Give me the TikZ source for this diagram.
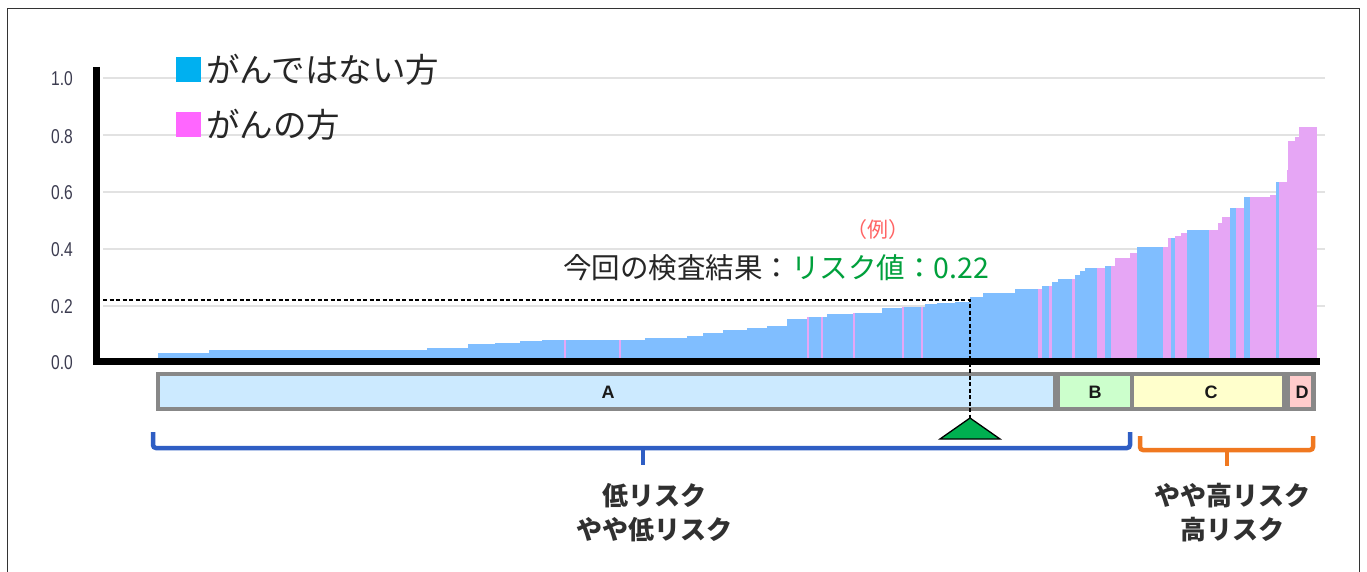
\documentclass[tikz,border=0pt]{standalone}
\usepackage{fontspec}
\setmainfont{Liberation Sans}
\newfontfamily\jp{Noto Sans CJK JP}
\newfontfamily\ylabfont[FakeStretch=0.78]{Liberation Sans}
\definecolor{legblue}{RGB}{0,176,240}
\definecolor{legpink}{RGB}{255,102,255}
\definecolor{barblue}{RGB}{128,190,255}
\definecolor{barpink}{RGB}{230,166,245}
\definecolor{gridc}{RGB}{226,226,226}
\definecolor{boxgrey}{RGB}{136,136,136}
\definecolor{fillA}{RGB}{204,234,255}
\definecolor{fillB}{RGB}{204,255,204}
\definecolor{fillC}{RGB}{255,255,204}
\definecolor{fillD}{RGB}{255,204,204}
\definecolor{brblue}{RGB}{47,94,196}
\definecolor{brorange}{RGB}{240,120,32}
\definecolor{trigreen}{RGB}{0,176,80}
\definecolor{txtgreen}{RGB}{0,160,60}
\definecolor{txtred}{RGB}{255,100,100}
\definecolor{txtdark}{RGB}{48,48,48}
\definecolor{ylabc}{RGB}{60,60,80}
\begin{document}
\begin{tikzpicture}[x=1pt,y=-1pt,
  ylab/.style={font=\ylabfont\fontsize{20}{22}\selectfont, text=ylabc, inner sep=0pt},
  gridline/.style={draw=gridc, line width=1.2pt},
  axisline/.style={draw=black, line width=7.5pt},
  legsq/.style={minimum width=25pt, minimum height=25pt, inner sep=0pt},
  legtxt/.style={font=\jp\fontsize{33.5}{40}\selectfont, anchor=west, inner sep=0pt, text=black!85},
  catlabel/.style={font=\fontsize{18}{20}\selectfont\bfseries, inner sep=0pt, text=black!90},
  guide/.style={draw=black, line width=1.4pt, dash pattern=on 4pt off 2.5pt},
  bracketblue/.style={draw=brblue, line width=4.5pt, rounded corners=3pt},
  bracketorange/.style={draw=brorange, line width=4.5pt, rounded corners=3pt},
  risklabel/.style={font=\jp\fontsize{26}{34}\selectfont\bfseries, align=center, text=txtdark, inner sep=0pt}
]
\useasboundingbox (0,0) rectangle (1367,572);
\fill[white] (0,0) rectangle (1367,572);
% outer frame
\draw[line width=1.5pt, draw=black!80] (7.5,572) -- (7.5,8.5) -- (1359.5,8.5) -- (1359.5,572);

% grid lines
\foreach \yy in {78,135,192,249,306} \draw[gridline] (103,\yy) -- (1325,\yy);

% bars
\foreach \a/\b/\v/\c in {
158/209/0.035/barblue, 209/427/0.045/barblue, 427/468/0.052/barblue,
468/495/0.066/barblue, 495/520/0.070/barblue, 520/542/0.077/barblue,
542/645/0.082/barblue, 645/687/0.087/barblue, 687/703/0.095/barblue,
703/723/0.105/barblue, 723/747/0.115/barblue, 747/767/0.122/barblue,
767/787/0.130/barblue, 787/807/0.154/barblue, 807/827/0.162/barblue,
827/853/0.172/barblue, 853/882/0.176/barblue, 882/903/0.193/barblue,
903/925/0.198/barblue, 925/937/0.207/barblue, 937/955/0.210/barblue,
955/970/0.215/barblue, 970/983/0.232/barblue, 983/1015/0.247/barblue,
1015/1042/0.260/barblue, 1042/1052/0.270/barblue, 1052/1058/0.285/barblue,
1058/1075/0.295/barblue, 1075/1080/0.309/barblue, 1080/1085/0.324/barblue,
1085/1097/0.333/barblue, 1097/1105/0.333/barpink, 1105/1111/0.341/barblue,
1111/1115/0.341/barpink, 1115/1130/0.370/barpink, 1130/1137/0.386/barpink,
1137/1163/0.408/barblue, 1163/1168/0.408/barpink, 1168/1171/0.438/barpink,
1171/1175/0.438/barblue, 1175/1181/0.445/barpink, 1181/1187/0.457/barpink,
1187/1209/0.467/barblue, 1209/1218/0.467/barpink, 1218/1222/0.490/barpink,
1222/1230/0.513/barpink, 1230/1236/0.543/barblue, 1236/1244/0.543/barpink,
1244/1250/0.584/barblue, 1250/1270/0.584/barpink, 1270/1276/0.590/barpink,
1276/1279/0.636/barblue, 1279/1287/0.636/barpink, 1287/1288/0.677/barpink,
1288/1295/0.779/barpink, 1295/1299/0.794/barpink, 1299/1317/0.827/barpink,
564/566/0.082/barpink, 619/621/0.082/barpink, 807/809/0.162/barpink,
821/823/0.162/barpink, 853/855/0.176/barpink, 902/904/0.198/barpink,
921/923/0.198/barpink, 1038/1042/0.260/barpink, 1049/1052/0.270/barpink,
1072/1075/0.295/barpink}
  \fill[\c] (\a,363) rectangle (\b,{363-285*\v});

% axes
\draw[axisline] (96.5,67) -- (96.5,365);
\draw[axisline] (93,361.5) -- (1320,361.5);

% y labels
\node[ylab] (y10) at (62,79) {1.0};
\node[ylab] (y08) at (62,137) {0.8};
\node[ylab] (y06) at (62,193) {0.6};
\node[ylab] (y04) at (62,250) {0.4};
\node[ylab] (y02) at (62,307) {0.2};
\node[ylab] (y00) at (62,363) {0.0};

% legend
\node[legsq, fill=legblue] (lsq1) at (188.5,70) {};
\node[legtxt] (ltx1) at (206,70) {がんではない方};
\node[legsq, fill=legpink] (lsq2) at (188.5,124.5) {};
\node[legtxt] (ltx2) at (206,124.5) {がんの方};

% annotation
\node[font=\jp\fontsize{21}{24}\selectfont, text=txtred, inner sep=0pt] (ex) at (878,230) {（例）};
\node[font=\jp\fontsize{28.5}{32}\selectfont, inner sep=0pt, text=black!85] (res) at (776,268)
  {今回の検査結果：\textcolor{txtgreen}{リスク値：0.22}};

% category bar
\fill[boxgrey] (156,372) rectangle (1316,411);
\node[fill=fillA, inner sep=0pt, minimum width=893pt, minimum height=31pt] (boxA) at (606.5,391.5) {};
\node[fill=fillB, inner sep=0pt, minimum width=70pt, minimum height=31pt] (boxB) at (1095,391.5) {};
\node[fill=fillC, inner sep=0pt, minimum width=148pt, minimum height=31pt] (boxC) at (1208,391.5) {};
\node[fill=fillD, inner sep=0pt, minimum width=21pt, minimum height=31pt] (boxD) at (1300.5,391.5) {};
\node[catlabel] (labA) at (608,392) {A};
\node[catlabel] (labB) at (1095,392) {B};
\node[catlabel] (labC) at (1211,392) {C};
\node[catlabel] (labD) at (1302,392) {D};

% guide lines and marker
\coordinate (gl) at (103,300);
\coordinate (gc) at (970,300);
\coordinate (tapex) at (970,418);
\coordinate (tl) at (940,439);
\coordinate (tr) at (1000,439);
\draw[guide] (gl) -- (gc) -- (tapex);
\filldraw[fill=trigreen, draw=black, line width=1.3pt, line join=miter] (tapex) -- (tr) -- (tl) -- cycle;

% brackets
\coordinate (b1a) at (153,432);
\coordinate (b1b) at (153,448);
\coordinate (b1c) at (1130,448);
\coordinate (b1d) at (1130,432);
\coordinate (b1m) at (643,448);
\coordinate (b1t) at (643,465);
\draw[bracketblue] (b1a) -- (b1b) -- (b1c) -- (b1d);
\draw[draw=brblue, line width=4.5pt] (b1m) -- (b1t);
\coordinate (b2a) at (1140,436);
\coordinate (b2b) at (1140,450);
\coordinate (b2c) at (1313,450);
\coordinate (b2d) at (1313,436);
\coordinate (b2m) at (1227,450);
\coordinate (b2t) at (1227,466);
\draw[bracketorange] (b2a) -- (b2b) -- (b2c) -- (b2d);
\draw[draw=brorange, line width=4.5pt] (b2m) -- (b2t);

% risk labels
\node[risklabel] (low) at (654,513) {低リスク\\やや低リスク};
\node[risklabel] (high) at (1232,513) {やや高リスク\\高リスク};
\end{tikzpicture}
\end{document}
